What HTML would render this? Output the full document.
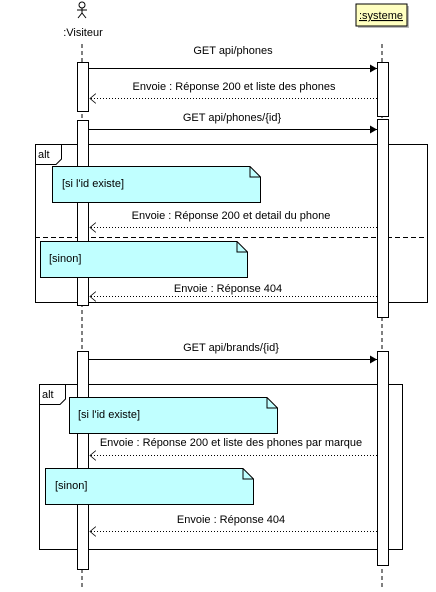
<!DOCTYPE html>
<html><head><meta charset="utf-8"><style>body{margin:0;background:#fff}</style></head><body>
<svg width="436" height="587" xmlns="http://www.w3.org/2000/svg" font-family="Liberation Sans, sans-serif" font-size="11">
<defs>
<marker id="f" markerWidth="8" markerHeight="8" refX="7" refY="4" orient="auto" markerUnits="userSpaceOnUse"><path d="M0,0 L7,4 L0,8 z" fill="#000"/></marker>
<marker id="o" markerWidth="8" markerHeight="10" refX="6" refY="5" orient="auto" markerUnits="userSpaceOnUse"><path d="M0,0 L6,5 L0,10" fill="none" stroke="#000" stroke-width="0.8"/></marker>
</defs>
<g stroke="#000" stroke-dasharray="4,3" stroke-width="1">
<line x1="82" y1="44" x2="82" y2="587"/>
<line x1="382" y1="44" x2="382" y2="587"/>
</g>
<g stroke="#000" fill="none" stroke-width="1">
<circle cx="82" cy="5" r="3"/>
<line x1="82" y1="8" x2="82" y2="13"/><line x1="77" y1="10" x2="87" y2="10"/>
<line x1="82" y1="13" x2="78" y2="18"/><line x1="82" y1="13" x2="86" y2="18"/>
</g>
<text x="83" y="36" text-anchor="middle">:Visiteur</text>
<rect x="358" y="6" width="51" height="22" fill="#bbb"/>
<rect x="356" y="4" width="51" height="22" fill="#ffffc0" stroke="#000"/>
<text x="381" y="19" text-anchor="middle" text-decoration="underline">:systeme</text>
<g fill="none" stroke="#000">
<rect x="35.5" y="144.5" width="392" height="158"/>
<path d="M35.5,164.5 H56 L61.5,159 V144.5"/>
<line x1="35" y1="237.5" x2="428" y2="237.5" stroke-dasharray="5,3"/>
<rect x="39.5" y="384.5" width="363" height="165"/>
<path d="M39.5,404.5 H60 L65.5,399 V384.5"/>
</g>
<text x="38" y="158">alt</text>
<text x="42" y="398">alt</text>
<g fill="#fff" stroke="#000">
<rect x="77.5" y="62.5" width="11" height="49"/>
<rect x="77.5" y="120.5" width="11" height="185"/>
<rect x="77.5" y="351.5" width="11" height="218"/>
<rect x="377.5" y="62.5" width="11" height="54"/>
<rect x="377.5" y="119.5" width="11" height="198"/>
<rect x="377.5" y="351.5" width="11" height="214"/>
</g>
<g fill="#c0ffff" stroke="#000">
<path d="M52.5,166.5 H250 L260.5,177 V202.5 H52.5 Z"/>
<path d="M40.5,241.5 H237 L247.5,252 V277.5 H40.5 Z"/>
<path d="M69.5,397.5 H267 L277.5,408 V433.5 H69.5 Z"/>
<path d="M45.5,468.5 H243 L253.5,479 V504.5 H45.5 Z"/>
</g>
<g fill="none" stroke="#000"><path d="M250,166.5 V177 H260.5"/><path d="M237,241.5 V252 H247.5"/><path d="M267,397.5 V408 H277.5"/><path d="M243,468.5 V479 H253.5"/></g>
<text x="62" y="187">[si l'id existe]</text>
<text x="49" y="262">[sinon]</text>
<text x="78" y="418">[si l'id existe]</text>
<text x="55" y="489">[sinon]</text>
<g stroke="#000" stroke-width="1">
<line x1="89" y1="68.5" x2="377" y2="68.5" marker-end="url(#f)"/>
<line x1="89" y1="129.5" x2="377" y2="129.5" marker-end="url(#f)"/>
<line x1="89" y1="359.5" x2="377" y2="359.5" marker-end="url(#f)"/>
</g>
<g stroke="#000" stroke-width="1" stroke-dasharray="1,2">
<line x1="377" y1="98.5" x2="90" y2="98.5" marker-end="url(#o)"/>
<line x1="377" y1="227.5" x2="90" y2="227.5" marker-end="url(#o)"/>
<line x1="377" y1="296.5" x2="90" y2="296.5" marker-end="url(#o)"/>
<line x1="377" y1="455.5" x2="90" y2="455.5" marker-end="url(#o)"/>
<line x1="377" y1="531.5" x2="90" y2="531.5" marker-end="url(#o)"/>
</g>
<g text-anchor="middle">
<text x="233" y="54">GET api/phones</text>
<text x="234" y="90">Envoie : Réponse 200 et liste des phones</text>
<text x="232" y="121">GET api/phones/{id}</text>
<text x="231" y="219">Envoie : Réponse 200 et detail du phone</text>
<text x="228" y="292">Envoie : Réponse 404</text>
<text x="231" y="351">GET api/brands/{id}</text>
<text x="231" y="446">Envoie : Réponse 200 et liste des phones par marque</text>
<text x="231" y="523">Envoie : Réponse 404</text>
</g>
</svg>
</body></html>
